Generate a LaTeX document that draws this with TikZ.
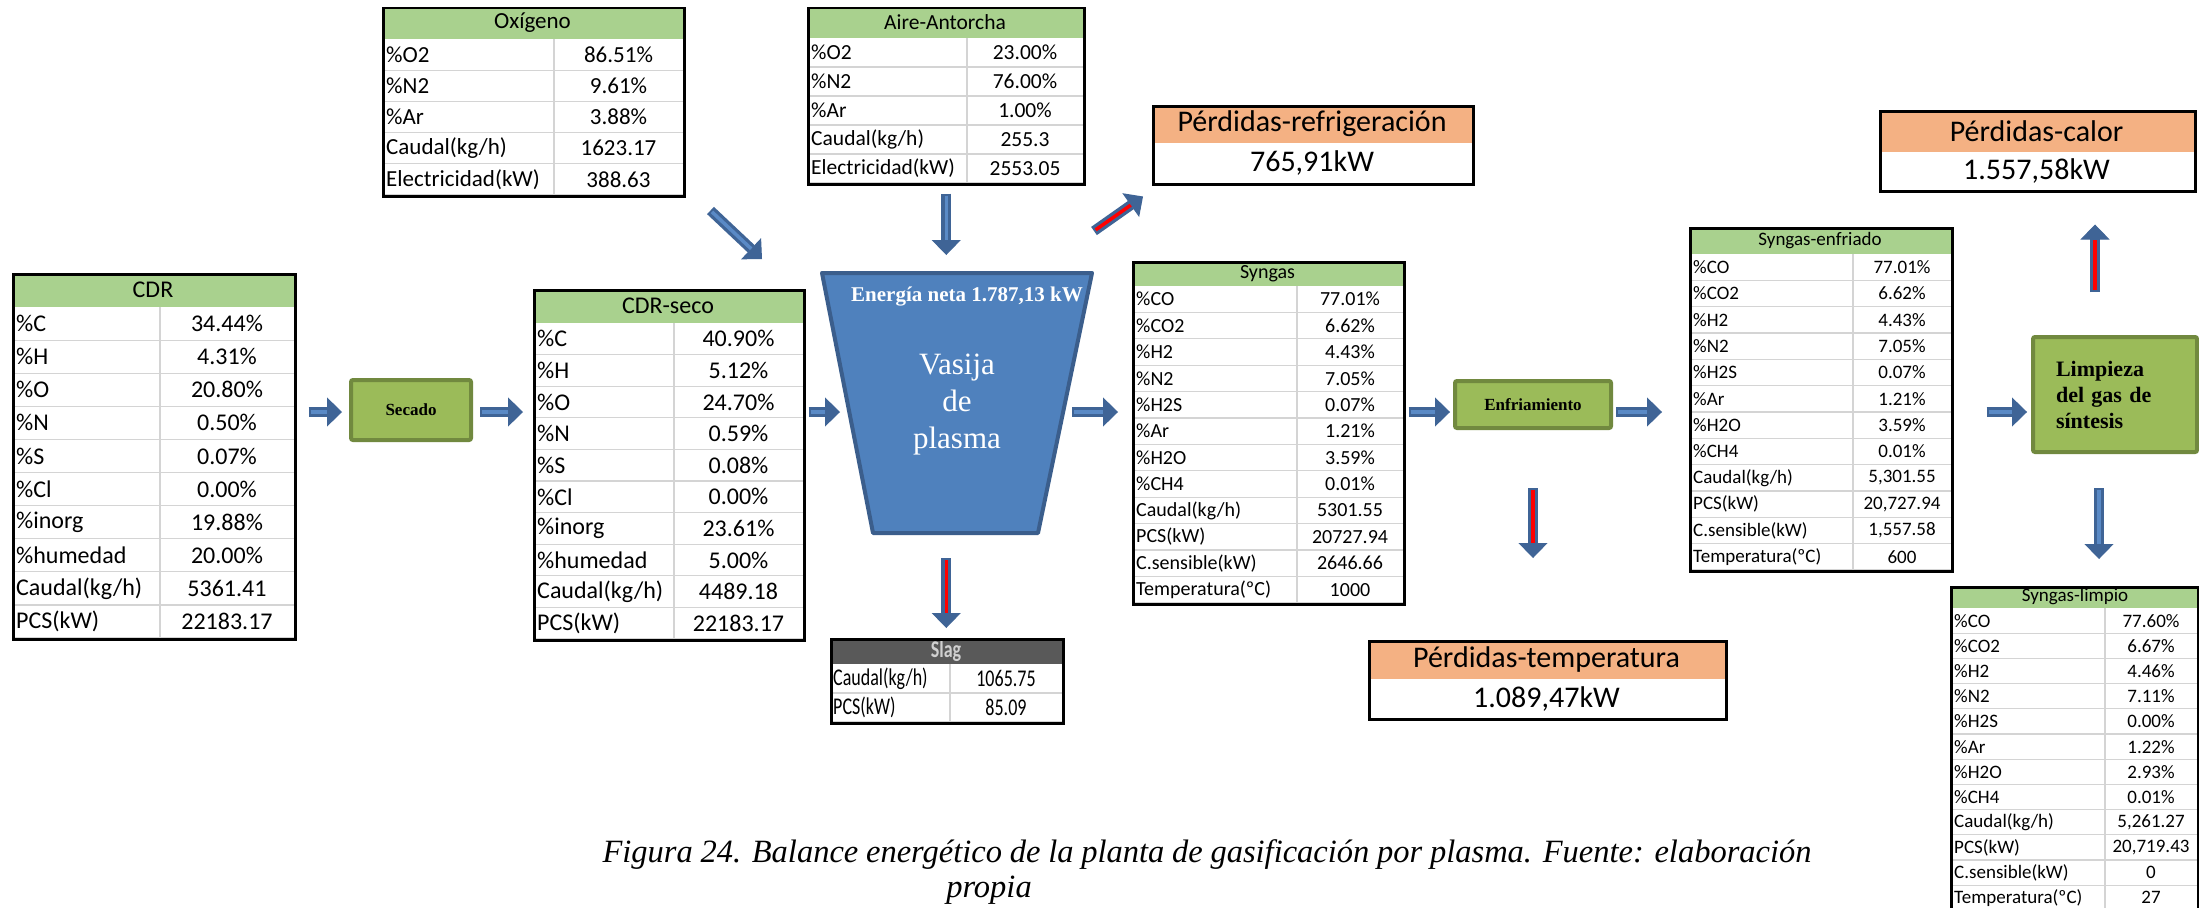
\documentclass[tikz,border=0pt]{standalone}
\usepackage{fontspec}
\setmainfont{Liberation Serif}
\newfontfamily\calib{Carlito}
\newfontfamily\calibnarrow[FakeStretch=0.75]{Carlito}
\usetikzlibrary{arrows.meta}

\definecolor{headgreen}{HTML}{A9D18E}
\definecolor{lossorange}{HTML}{F4B183}
\definecolor{gridgray}{HTML}{D4D4D4}
\definecolor{slaggray}{HTML}{595959}
\definecolor{slagtext}{HTML}{D0D0D0}
\definecolor{vesselfill}{HTML}{4F81BD}
\definecolor{vesseldraw}{HTML}{3B5E8C}
\definecolor{procfill}{HTML}{9BBB59}
\definecolor{procdraw}{HTML}{71893F}
\definecolor{arrowdark}{HTML}{3F6496}
\definecolor{arrowlight}{HTML}{5A8AC6}

\tikzset{
  tframe/.style={draw=black, line width=2.5pt, anchor=north west, inner sep=0pt},
  gridline/.style={draw=gridgray, line width=1.2pt},
  lcell/.style={anchor=west, inner sep=0pt},
  vcell/.style={anchor=center, inner sep=0pt},
  headtext/.style={anchor=center, inner sep=0pt},
  procbox/.style={draw=procdraw, fill=procfill, line width=4pt, rounded corners=2pt,
    inner sep=0pt, font=\bfseries\fontsize{17}{20}\selectfont},
  vessel/.style={draw=vesseldraw, fill=vesselfill, line width=4pt, line join=round},
  vesseltext/.style={text=white, align=center, inner sep=0pt, font=\fontsize{31}{37}\selectfont},
  flowbase/.style={draw=arrowdark, line width=10pt, -{Triangle[length=15pt, width=29pt, line width=1pt]}},
  flow/.style={flowbase, postaction={draw=arrowlight, line width=3.5pt, -, shorten >=15pt, shorten <=2pt}},
  lossflow/.style={flowbase, postaction={draw=red, line width=3.5pt, -, shorten >=15pt, shorten <=2pt}},
}

\begin{document}
\begin{tikzpicture}[x=1pt, y=-1pt]
\useasboundingbox[fill=white] (0,0) rectangle (2199,907);

% CDR
\begin{scope}[font=\calib\fontsize{24}{28}\selectfont]
\fill[headgreen] (12,273) rectangle (294,307);
\node[headtext] (cdrtitle) at (153,290) {CDR};
\foreach \lab/\val [count=\i] in {\%C/34.44\%, \%H/4.31\%, \%O/20.80\%, \%N/0.50\%, \%S/0.07\%,
    \%Cl/0.00\%, \%inorg/19.88\%, \%humedad/20.00\%, {Caudal(kg/h)}/5361.41, PCS(kW)/22183.17}{
  \draw[gridline] (12,{307+\i*33.1}) -- (294,{307+\i*33.1});
  \node[lcell] (cdrl\i) at (16,{307+(\i-0.5)*33.1}) {\lab};
  \node[vcell] (cdrv\i) at (227,{307+(\i-0.5)*33.1}) {\val};
}
\draw[gridline] (160,307) -- (160,638);
\node[tframe, minimum width=282pt, minimum height=365pt] (cdr) at (12,273) {};
\end{scope}

% Secado
\node[procbox, minimum width=120pt, minimum height=60pt] (secado) at (411,410) {Secado};

% CDR-seco
\begin{scope}[font=\calib\fontsize{24}{28}\selectfont]
\fill[headgreen] (533,289) rectangle (803,323);
\node[headtext] (secotitle) at (668,306) {CDR-seco};
\foreach \lab/\val [count=\i] in {\%C/40.90\%, \%H/5.12\%, \%O/24.70\%, \%N/0.59\%, \%S/0.08\%,
    \%Cl/0.00\%, \%inorg/23.61\%, \%humedad/5.00\%, {Caudal(kg/h)}/4489.18, PCS(kW)/22183.17}{
  \draw[gridline] (533,{323+\i*31.6}) -- (803,{323+\i*31.6});
  \node[lcell] (secol\i) at (537,{323+(\i-0.5)*31.6}) {\lab};
  \node[vcell] (secov\i) at (738.5,{323+(\i-0.5)*31.6}) {\val};
}
\draw[gridline] (674,323) -- (674,639);
\node[tframe, minimum width=270pt, minimum height=350pt] (cdrseco) at (533,289) {};
\end{scope}

% Oxigeno
\begin{scope}[font=\calib\fontsize{23}{27}\selectfont]
\fill[headgreen] (382,7) rectangle (683,39);
\node[headtext] (oxititle) at (532.5,23) {Oxígeno};
\foreach \lab/\val [count=\i] in {\%O2/86.51\%, \%N2/9.61\%, \%Ar/3.88\%,
    {Caudal(kg/h)}/1623.17, Electricidad(kW)/388.63}{
  \draw[gridline] (382,{39+\i*31.2}) -- (683,{39+\i*31.2});
  \node[lcell] (oxil\i) at (386,{39+(\i-0.5)*31.2}) {\lab};
  \node[vcell] (oxiv\i) at (618.5,{39+(\i-0.5)*31.2}) {\val};
}
\draw[gridline] (554,39) -- (554,195);
\node[tframe, minimum width=301pt, minimum height=188pt] (oxigeno) at (382,7) {};
\end{scope}

% Aire-Antorcha
\begin{scope}[font=\calib\fontsize{21.5}{25}\selectfont]
\fill[headgreen] (807,7) rectangle (1083,38);
\node[headtext] (airetitle) at (945,22.5) {Aire-Antorcha};
\foreach \lab/\val [count=\i] in {\%O2/23.00\%, \%N2/76.00\%, \%Ar/1.00\%,
    {Caudal(kg/h)}/255.3, Electricidad(kW)/2553.05}{
  \draw[gridline] (807,{38+\i*29}) -- (1083,{38+\i*29});
  \node[lcell] (airel\i) at (811,{38+(\i-0.5)*29}) {\lab};
  \node[vcell] (airev\i) at (1025,{38+(\i-0.5)*29}) {\val};
}
\draw[gridline] (967,38) -- (967,183);
\node[tframe, minimum width=276pt, minimum height=176pt] (aire) at (807,7) {};
\end{scope}

% Vasija de plasma
\draw[vessel] (822,273) coordinate (vtl) -- (1092,273) coordinate (vtr)
  -- (1038,533) coordinate (vbr) -- (873,533) coordinate (vbl) -- cycle;
\node[vesseltext] (vasija) at (957,405) {Vasija\\de\\plasma};
\node[text=white, inner sep=0pt, font=\bfseries\fontsize{21}{24}\selectfont] (neta) at (967,297) {Energía neta 1.787,13 kW};

% Slag
\begin{scope}[font=\calibnarrow\fontsize{24}{28}\selectfont]
\fill[slaggray] (830,638) rectangle (1062,664);
\node[headtext, text=slagtext, font=\calibnarrow\bfseries\fontsize{24}{28}\selectfont] (slagtitle) at (946,651) {Slag};
\foreach \lab/\val [count=\i] in {{Caudal(kg/h)}/1065.75, PCS(kW)/85.09}{
  \draw[gridline] (830,{664+\i*29}) -- (1062,{664+\i*29});
  \node[lcell] (slagl\i) at (833,{664+(\i-0.5)*29}) {\lab};
  \node[vcell] (slagv\i) at (1006,{664+(\i-0.5)*29}) {\val};
}
\draw[gridline] (950,664) -- (950,722);
\node[tframe, minimum width=232pt, minimum height=84pt] (slag) at (830,638) {};
\end{scope}

% Syngas
\begin{scope}[font=\calib\fontsize{20}{24}\selectfont]
\fill[headgreen] (1132,261) rectangle (1403,286);
\node[headtext] (syntitle) at (1267.5,273.5) {Syngas};
\foreach \lab/\val [count=\i] in {\%CO/77.01\%, \%CO2/6.62\%, \%H2/4.43\%, \%N2/7.05\%,
    \%H2S/0.07\%, \%Ar/1.21\%, \%H2O/3.59\%, \%CH4/0.01\%, {Caudal(kg/h)}/5301.55,
    PCS(kW)/20727.94, C.sensible(kW)/2646.66, Temperatura(ºC)/1000}{
  \draw[gridline] (1132,{286+\i*26.4}) -- (1403,{286+\i*26.4});
  \node[lcell] (synl\i) at (1136,{286+(\i-0.5)*26.4}) {\lab};
  \node[vcell] (synv\i) at (1350,{286+(\i-0.5)*26.4}) {\val};
}
\draw[gridline] (1297,286) -- (1297,603);
\node[tframe, minimum width=271pt, minimum height=342pt] (syngas) at (1132,261) {};
\end{scope}

% Enfriamiento
\node[procbox, minimum width=156pt, minimum height=47pt] (enfriamiento) at (1533,404.5) {Enfriamiento};

% Syngas-enfriado
\begin{scope}[font=\calib\fontsize{19}{23}\selectfont]
\fill[headgreen] (1689,227) rectangle (1951,254);
\node[headtext] (enftitle) at (1820,240.5) {Syngas-enfriado};
\foreach \lab/\val [count=\i] in {\%CO/77.01\%, \%CO2/6.62\%, \%H2/4.43\%, \%N2/7.05\%,
    \%H2S/0.07\%, \%Ar/1.21\%, \%H2O/3.59\%, \%CH4/0.01\%, {Caudal(kg/h)}/{5,301.55},
    PCS(kW)/{20,727.94}, C.sensible(kW)/{1,557.58}, Temperatura(ºC)/600}{
  \draw[gridline] (1689,{254+\i*26.33}) -- (1951,{254+\i*26.33});
  \node[lcell] (enfl\i) at (1693,{254+(\i-0.5)*26.33}) {\lab};
  \node[vcell] (enfv\i) at (1902,{254+(\i-0.5)*26.33}) {\val};
}
\draw[gridline] (1853,254) -- (1853,570);
\node[tframe, minimum width=262pt, minimum height=343pt] (enfriado) at (1689,227) {};
\end{scope}

% Limpieza
\node[procbox, minimum width=164pt, minimum height=115pt, text width=118pt, align=left,
  inner xsep=23pt, font=\bfseries\fontsize{22}{26}\selectfont] (limpieza) at (2115,394.5)
  {Limpieza\\del gas de\\síntesis};

% Syngas-limpio
\begin{scope}[font=\calib\fontsize{19}{23}\selectfont]
\fill[headgreen] (1950,586) rectangle (2197,608);
\node[headtext] (limtitle) at (2075,597) {Syngas-limpio};
\foreach \lab/\val [count=\i] in {\%CO/77.60\%, \%CO2/6.67\%, \%H2/4.46\%, \%N2/7.11\%,
    \%H2S/0.00\%, \%Ar/1.22\%, \%H2O/2.93\%, \%CH4/0.01\%, {Caudal(kg/h)}/{5,261.27},
    PCS(kW)/{20,719.43}, C.sensible(kW)/0, Temperatura(ºC)/27}{
  \draw[gridline] (1950,{608+\i*25.2}) -- (2197,{608+\i*25.2});
  \node[lcell] (liml\i) at (1954,{608+(\i-0.5)*25.2}) {\lab};
  \node[vcell] (limv\i) at (2151,{608+(\i-0.5)*25.2}) {\val};
}
\draw[gridline] (2105,608) -- (2105,911);
\node[tframe, minimum width=247pt, minimum height=325pt] (limpio) at (1950,586) {};
\end{scope}

% perdidas
\begin{scope}[font=\calib\fontsize{30}{34}\selectfont]
\fill[lossorange] (1152,105) rectangle (1472,143);
\node[headtext] (refrititle) at (1312,124) {Pérdidas-refrigeración};
\node[headtext] (refrival) at (1312,163) {765,91kW};
\node[tframe, minimum width=320pt, minimum height=78pt] (perdrefri) at (1152,105) {};

\fill[lossorange] (1879,110) rectangle (2194,152);
\node[headtext] (calortitle) at (2036.5,131) {Pérdidas-calor};
\node[headtext] (calorval) at (2036.5,171) {1.557,58kW};
\node[tframe, minimum width=315pt, minimum height=80pt] (perdcalor) at (1879,110) {};

\fill[lossorange] (1368,640) rectangle (1725,679);
\node[headtext] (temptitle) at (1546.5,659.5) {Pérdidas-temperatura};
\node[headtext] (tempval) at (1546.5,698.5) {1.089,47kW};
\node[tframe, minimum width=357pt, minimum height=78pt] (perdtemp) at (1368,640) {};
\end{scope}

% flechas
\coordinate (axis) at (0,412);
\draw[flow] ([xshift=12pt]cdr.east |- axis) -- ([xshift=-7pt]secado.west |- axis);
\draw[flow] ([xshift=7pt]secado.east |- axis) -- ([xshift=-10pt]cdrseco.west |- axis);
\draw[flow] ([xshift=3pt]cdrseco.east |- axis) -- ([xshift=18pt]vtl |- axis);
\draw[flow] ([xshift=-20pt]vtr |- axis) -- ([xshift=-14pt]syngas.west |- axis);
\draw[flow] ([xshift=3pt]syngas.east |- axis) -- ([xshift=-3pt]enfriamiento.west |- axis);
\draw[flow] ([xshift=3pt]enfriamiento.east |- axis) -- ([xshift=-27pt]enfriado.west |- axis);
\draw[flow] ([xshift=33pt]enfriado.east |- axis) -- ([xshift=-4pt]limpieza.west |- axis);
\draw[flow] ([shift={(25,13)}]oxigeno.south east) -- ([shift={(-60,-14)}]vtl);
\draw[flow] ([shift={(0,8)}]aire.south) -- ([shift={(0,-18)}]aire.south |- vtl);
\draw[lossflow] ([shift={(2,-42)}]vtr) -- ([shift={(-9,11)}]perdrefri.south west);
\draw[lossflow] ([shift={(0,25)}]aire.south |- vbl) -- ([shift={(0,-10)}]aire.south |- slag.north);
\draw[lossflow] ([shift={(0,58)}]enfriamiento.south) -- ([shift={(0,-82)}]enfriamiento.south |- perdtemp.north);
\draw[lossflow] ([shift={(-20,-43)}]limpieza.north) -- ([shift={(-20,32)}]limpieza.north |- perdcalor.south);
\draw[flow] ([shift={(-16,34)}]limpieza.south) -- ([shift={(-16,-27)}]limpieza.south |- limpio.north);

% pie de figura
\node[anchor=base, inner sep=0pt, font=\itshape\fontsize{32.5}{36}\selectfont] (figcap) at (1207,862)
  {\makebox[1209pt][s]{Figura 24. Balance energético de la planta de gasificación por plasma. Fuente: elaboración}};
\node[anchor=base, inner sep=0pt, font=\itshape\fontsize{32.5}{36}\selectfont] (figcapb) at (989,897) {propia};
\end{tikzpicture}
\end{document}
